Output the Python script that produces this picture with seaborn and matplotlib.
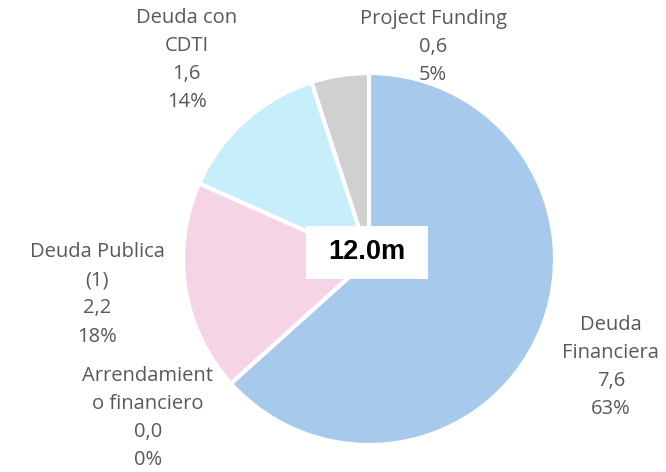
import matplotlib.pyplot as plt
import seaborn as sns
from matplotlib.patches import Rectangle

# datos (millones)
labels = ["Deuda\nFinanciera", "Arrendamient\no financiero", "Deuda Publica\n(1)",
          "Deuda con\nCDTI", "Project Funding"]
values = [7.6, 0.0, 2.2, 1.6, 0.6]
value_text = ["7,6", "0,0", "2,2", "1,6", "0,6"]
pct_text = ["63%", "0%", "18%", "14%", "5%"]
total_label = "12.0m"
colors = ["#A6C9EC", "#B9B9B9", "#F5D5E5", "#C6EEFB", "#D0D0D0"]

# posiciones de las etiquetas (coordenadas del eje, radio = 1)
label_pos = [(1.30, -0.58), (-1.19, -0.855), (-1.46, -0.19), (-0.98, 1.07), (0.345, 1.14)]

sns.set_theme(style="white")
plt.rcParams["font.family"] = ["Open Sans", "DejaVu Sans"]

fig = plt.figure(figsize=(6.66, 4.72), dpi=100)
ax = fig.add_axes([0, 0, 1, 1])

ax.pie(values, colors=colors, startangle=90, counterclock=False, radius=1.0,
       wedgeprops={"edgecolor": "white", "linewidth": 3})

for lab, v, p, (x, y) in zip(labels, value_text, pct_text, label_pos):
    ax.text(x, y, f"{lab}\n{v}\n{p}", ha="center", va="center", fontsize=14.5,
            color="#595959", linespacing=1.55)

# caja central con el total
ax.add_patch(Rectangle((-0.34, -0.11), 0.656, 0.29, facecolor="white", edgecolor="none", zorder=3))
ax.text(-0.01, 0.035, total_label, ha="center", va="center", fontsize=19.5,
        fontweight="bold", color="black", family=["Liberation Sans", "DejaVu Sans"], zorder=4)

ax.set_xlim(-369 / 186, (666 - 369) / 186)
ax.set_ylim(-213 / 186, (472 - 213) / 186)
ax.set_aspect("equal")
ax.axis("off")

fig.savefig("out.png", dpi=100)
